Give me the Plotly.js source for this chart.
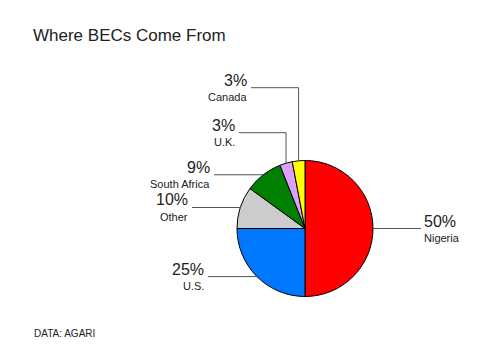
<!DOCTYPE html>
<html>
<head>
<meta charset="utf-8">
<script src="https://cdn.plot.ly/plotly-3.0.1.min.js"></script>
<style>html,body{margin:0;padding:0;background:#fff;}#chart{width:500px;height:363px;}</style>
</head>
<body>
<div id="chart"></div>
<script>
// ---- data ----
const countries = ["Nigeria", "U.S.", "Other", "South Africa", "U.K.", "Canada"];
const shares = [50, 25, 10, 9, 3, 3];
const pctLabels = ["50%", "25%", "10%", "9%", "3%", "3%"];
const sourceNote = "DATA: AGARI";
const chartTitle = "Where BECs Come From";

// ---- style / layout ----
const colors = ["#ff0000", "#0077ff", "#cccccc", "#008000", "#dda0ff", "#ffff00"];
const W = 500, H = 363;
const cx = 305, cy = 228.5, R = 68;          // pie geometry (px)
const lineEndX = [421, 208, 192, 214, 239, 251];
const elbowY = [null, null, null, null, 132.7, 87.7];
const side = ["right", "left", "left", "left", "left", "left"];

const px = x => x / W;
const py = y => 1 - y / H;

const total = shares.reduce((a, b) => a + b, 0);
let cum = 0;
const shapes = [];
const annotations = [];
const txtFont = "Liberation Sans, Arial, sans-serif";

shares.forEach((v, i) => {
  const mid = (cum + v / 2) / total;
  cum += v;
  const th = 2 * Math.PI * mid;
  const ax = cx + R * Math.sin(th);
  const ay = cy - R * Math.cos(th);
  const ly = elbowY[i] === null ? ay : elbowY[i];
  const ex = lineEndX[i];
  shapes.push({
    type: "path", xref: "paper", yref: "paper",
    path: `M ${px(ax)} ${py(ay)} L ${px(ax)} ${py(ly)} L ${px(ex)} ${py(ly)}`,
    line: {color: "#555555", width: 1}
  });
  const right = side[i] === "right";
  const tx = right ? ex + 1 : ex - 2;
  annotations.push({
    xref: "paper", yref: "paper", x: px(tx), y: py(ly - 7.5),
    xanchor: right ? "left" : "right", yanchor: "middle", showarrow: false,
    text: pctLabels[i], font: {family: txtFont, size: 16, color: "#222222"}
  });
  annotations.push({
    xref: "paper", yref: "paper", x: px(tx), y: py(ly + 9.5),
    xanchor: right ? "left" : "right", yanchor: "middle", showarrow: false,
    text: countries[i], font: {family: txtFont, size: 11, color: "#222222"}
  });
});

annotations.push({
  xref: "paper", yref: "paper", x: px(32), y: py(333),
  xanchor: "left", yanchor: "middle", showarrow: false,
  text: sourceNote, font: {family: txtFont, size: 10, color: "#222222"}
});

const trace = {
  type: "pie",
  labels: countries,
  values: shares,
  sort: false,
  direction: "clockwise",
  rotation: 0,
  textinfo: "none",
  hoverinfo: "label+percent",
  marker: {colors: colors, line: {color: "#000000", width: 1}},
  domain: {x: [px(cx - R), px(cx + R)], y: [py(cy + R), py(cy - R)]},
  showlegend: false
};

const layout = {
  width: W, height: H,
  margin: {l: 0, r: 0, t: 0, b: 0},
  paper_bgcolor: "#ffffff",
  plot_bgcolor: "#ffffff",
  title: {
    text: chartTitle, xref: "paper", yref: "paper",
    x: px(33), xanchor: "left", y: py(35), yanchor: "middle",
    font: {family: txtFont, size: 17, color: "#222222"}
  },
  shapes: shapes,
  annotations: annotations
};

Plotly.newPlot("chart", [trace], layout, {displayModeBar: false, staticPlot: true});
</script>
</body>
</html>
